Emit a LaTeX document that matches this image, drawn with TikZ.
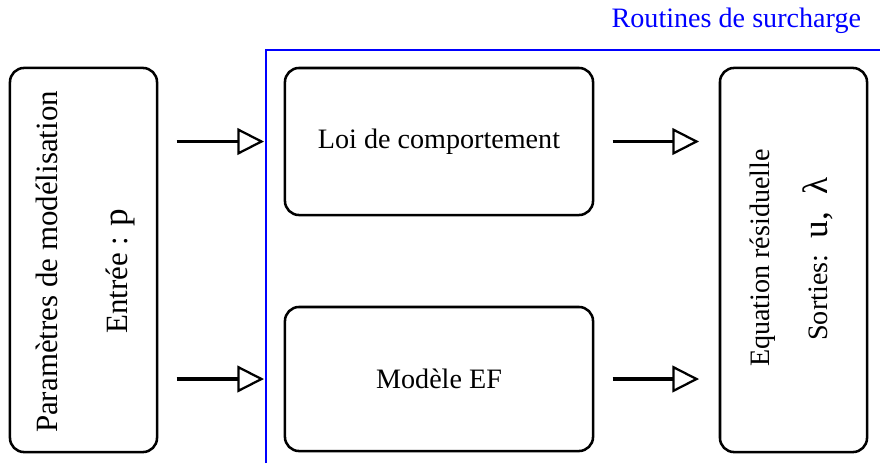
\documentclass[tikz,border=0pt]{standalone}
\usepackage{fontspec}
\setmainfont{Liberation Serif}
\usetikzlibrary{arrows.meta}

\begin{document}
\begin{tikzpicture}[x=0.025cm,y=-0.025cm,
  bloc/.style={draw=black,line width=1.8pt,rounded corners=10pt,inner sep=0pt},
  fleche/.style={line width=2.3pt,shorten <=13pt,shorten >=14pt,
    -{Triangle[open,length=19pt,width=19pt,line width=1.6pt]}},
  txt/.style={font=\fontsize{20}{24}\selectfont}]
\useasboundingbox (0,0) rectangle (880,463);

% routines de surcharge
\draw[blue,line width=1.4pt] (266,463) -- (266,50) -- (880,50);
\node[txt,blue,anchor=east] (titre) at (866,21) {Routines de surcharge};

% blocs
\node[bloc,minimum width=3.675cm,minimum height=9.6cm] (param) at (83.5,260) {};
\node[bloc,minimum width=7.7cm,minimum height=3.675cm] (loi) at (439,141.5) {};
\node[bloc,minimum width=7.7cm,minimum height=3.6cm] (ef) at (439,379) {};
\node[bloc,minimum width=3.675cm,minimum height=9.6cm] (res) at (793.5,260) {};

% textes
\node[txt,font=\fontsize{22}{26}\selectfont,rotate=90] (p1) at (47,262) {Paramètres de modélisation};
\node[txt,font=\fontsize{22}{26}\selectfont,rotate=90] (p2) at (120,271) {Entrée : {\fontsize{25}{28}\selectfont p}};
\node[txt] (t1) at (loi) {Loi de comportement};
\node[txt] (t2) at (ef) {Modèle EF};
\node[txt,rotate=90] (r1) at (763,258) {Equation résiduelle};
\node[txt,rotate=90] (r2) at (818,259) {Sorties:~ {\fontsize{25}{28}\selectfont u,~ λ}};

% fleches
\draw[fleche] (param.east |- loi.west) -- (loi.west);
\draw[fleche] (param.east |- ef.west) -- (ef.west);
\draw[fleche] (loi.east) -- (res.west |- loi.east);
\draw[fleche] (ef.east) -- (res.west |- ef.east);
\end{tikzpicture}
\end{document}
